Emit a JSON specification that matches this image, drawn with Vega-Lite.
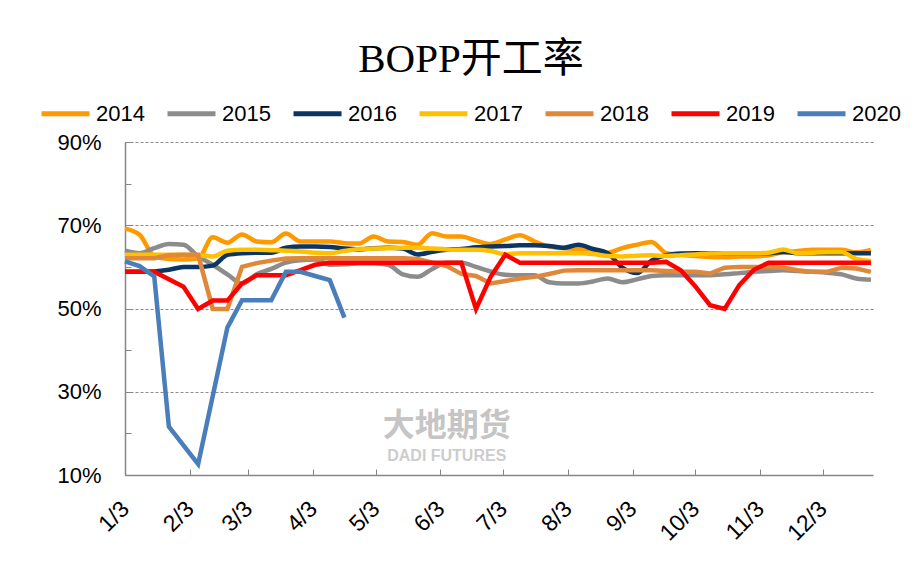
{
  "$schema": "https://vega.github.io/schema/vega-lite/v6.json",
  "width": 748,
  "height": 333,
  "autosize": "none",
  "padding": {"left": 125, "top": 142, "right": 45, "bottom": 92},
  "background": "white",
  "config": {"view": {"stroke": null}},
  "title": {"text": "BOPP开工率", "font": "Liberation Serif, Noto Sans CJK SC", "fontSize": 41, "fontWeight": "normal", "color": "black", "anchor": "middle", "dx": -28, "offset": 6},
  "data": {"values": [
{"d":"2019/01/03","s":"2014","v":69.2},{"d":"2019/01/10","s":"2014","v":67.7},{"d":"2019/01/17","s":"2014","v":62.6},{"d":"2019/01/24","s":"2014","v":61.9},{"d":"2019/01/31","s":"2014","v":61.8},{"d":"2019/02/07","s":"2014","v":62.0},{"d":"2019/02/14","s":"2014","v":67.1},{"d":"2019/02/21","s":"2014","v":65.8},{"d":"2019/02/28","s":"2014","v":67.8},{"d":"2019/03/07","s":"2014","v":66.1},{"d":"2019/03/14","s":"2014","v":65.9},{"d":"2019/03/21","s":"2014","v":68.0},{"d":"2019/03/28","s":"2014","v":66.1},{"d":"2019/04/04","s":"2014","v":66.1},{"d":"2019/04/11","s":"2014","v":66.1},{"d":"2019/04/18","s":"2014","v":65.7},{"d":"2019/04/25","s":"2014","v":65.6},{"d":"2019/05/02","s":"2014","v":67.3},{"d":"2019/05/09","s":"2014","v":66.1},{"d":"2019/05/16","s":"2014","v":66.0},{"d":"2019/05/23","s":"2014","v":65.3},{"d":"2019/05/30","s":"2014","v":68.1},{"d":"2019/06/06","s":"2014","v":67.3},{"d":"2019/06/13","s":"2014","v":67.3},{"d":"2019/06/20","s":"2014","v":66.3},{"d":"2019/06/27","s":"2014","v":65.5},{"d":"2019/07/04","s":"2014","v":66.6},{"d":"2019/07/11","s":"2014","v":67.6},{"d":"2019/07/18","s":"2014","v":66.1},{"d":"2019/07/25","s":"2014","v":64.9},{"d":"2019/08/01","s":"2014","v":64.5},{"d":"2019/08/08","s":"2014","v":64.3},{"d":"2019/08/15","s":"2014","v":64.1},{"d":"2019/08/22","s":"2014","v":63.4},{"d":"2019/08/29","s":"2014","v":64.5},{"d":"2019/09/05","s":"2014","v":65.3},{"d":"2019/09/12","s":"2014","v":66.0},{"d":"2019/09/19","s":"2014","v":63.3},{"d":"2019/09/26","s":"2014","v":62.9},{"d":"2019/10/03","s":"2014","v":62.6},{"d":"2019/10/10","s":"2014","v":62.4},{"d":"2019/10/17","s":"2014","v":62.3},{"d":"2019/10/24","s":"2014","v":62.5},{"d":"2019/10/31","s":"2014","v":62.5},{"d":"2019/11/07","s":"2014","v":62.8},{"d":"2019/11/14","s":"2014","v":63.5},{"d":"2019/11/21","s":"2014","v":63.8},{"d":"2019/11/28","s":"2014","v":64.1},{"d":"2019/12/05","s":"2014","v":64.1},{"d":"2019/12/12","s":"2014","v":64.1},{"d":"2019/12/19","s":"2014","v":63.5},{"d":"2019/12/26","s":"2014","v":64.1},
{"d":"2019/01/03","s":"2015","v":63.9},{"d":"2019/01/10","s":"2015","v":63.3},{"d":"2019/01/17","s":"2015","v":64.5},{"d":"2019/01/24","s":"2015","v":65.5},{"d":"2019/01/31","s":"2015","v":65.3},{"d":"2019/02/07","s":"2015","v":62.5},{"d":"2019/02/14","s":"2015","v":60.5},{"d":"2019/02/21","s":"2015","v":58.2},{"d":"2019/02/28","s":"2015","v":56.0},{"d":"2019/03/07","s":"2015","v":58.2},{"d":"2019/03/14","s":"2015","v":59.5},{"d":"2019/03/21","s":"2015","v":61.0},{"d":"2019/03/28","s":"2015","v":61.6},{"d":"2019/04/04","s":"2015","v":61.8},{"d":"2019/04/11","s":"2015","v":60.5},{"d":"2019/04/18","s":"2015","v":60.6},{"d":"2019/04/25","s":"2015","v":60.9},{"d":"2019/05/02","s":"2015","v":60.9},{"d":"2019/05/09","s":"2015","v":60.5},{"d":"2019/05/16","s":"2015","v":58.2},{"d":"2019/05/23","s":"2015","v":57.6},{"d":"2019/05/30","s":"2015","v":59.5},{"d":"2019/06/06","s":"2015","v":61.0},{"d":"2019/06/13","s":"2015","v":61.0},{"d":"2019/06/20","s":"2015","v":60.0},{"d":"2019/06/27","s":"2015","v":58.9},{"d":"2019/07/04","s":"2015","v":58.1},{"d":"2019/07/11","s":"2015","v":58.0},{"d":"2019/07/18","s":"2015","v":58.0},{"d":"2019/07/25","s":"2015","v":56.3},{"d":"2019/08/01","s":"2015","v":56.0},{"d":"2019/08/08","s":"2015","v":56.0},{"d":"2019/08/15","s":"2015","v":56.5},{"d":"2019/08/22","s":"2015","v":57.2},{"d":"2019/08/29","s":"2015","v":56.3},{"d":"2019/09/05","s":"2015","v":57.0},{"d":"2019/09/12","s":"2015","v":57.8},{"d":"2019/09/19","s":"2015","v":58.0},{"d":"2019/09/26","s":"2015","v":58.0},{"d":"2019/10/03","s":"2015","v":58.0},{"d":"2019/10/10","s":"2015","v":58.0},{"d":"2019/10/17","s":"2015","v":58.2},{"d":"2019/10/24","s":"2015","v":58.5},{"d":"2019/10/31","s":"2015","v":58.8},{"d":"2019/11/07","s":"2015","v":59.0},{"d":"2019/11/14","s":"2015","v":59.2},{"d":"2019/11/21","s":"2015","v":59.0},{"d":"2019/11/28","s":"2015","v":58.8},{"d":"2019/12/05","s":"2015","v":58.6},{"d":"2019/12/12","s":"2015","v":58.2},{"d":"2019/12/19","s":"2015","v":57.2},{"d":"2019/12/26","s":"2015","v":56.9},
{"d":"2019/01/03","s":"2016","v":58.8},{"d":"2019/01/10","s":"2016","v":58.8},{"d":"2019/01/17","s":"2016","v":58.9},{"d":"2019/01/24","s":"2016","v":59.3},{"d":"2019/01/31","s":"2016","v":60.0},{"d":"2019/02/07","s":"2016","v":60.0},{"d":"2019/02/14","s":"2016","v":60.3},{"d":"2019/02/21","s":"2016","v":62.9},{"d":"2019/02/28","s":"2016","v":63.3},{"d":"2019/03/07","s":"2016","v":63.4},{"d":"2019/03/14","s":"2016","v":63.4},{"d":"2019/03/21","s":"2016","v":64.6},{"d":"2019/03/28","s":"2016","v":64.9},{"d":"2019/04/04","s":"2016","v":64.9},{"d":"2019/04/11","s":"2016","v":64.8},{"d":"2019/04/18","s":"2016","v":64.4},{"d":"2019/04/25","s":"2016","v":64.2},{"d":"2019/05/02","s":"2016","v":64.5},{"d":"2019/05/09","s":"2016","v":64.6},{"d":"2019/05/16","s":"2016","v":64.4},{"d":"2019/05/23","s":"2016","v":63.0},{"d":"2019/05/30","s":"2016","v":63.6},{"d":"2019/06/06","s":"2016","v":64.1},{"d":"2019/06/13","s":"2016","v":64.3},{"d":"2019/06/20","s":"2016","v":64.7},{"d":"2019/06/27","s":"2016","v":64.9},{"d":"2019/07/04","s":"2016","v":65.0},{"d":"2019/07/11","s":"2016","v":65.2},{"d":"2019/07/18","s":"2016","v":65.2},{"d":"2019/07/25","s":"2016","v":65.0},{"d":"2019/08/01","s":"2016","v":64.6},{"d":"2019/08/08","s":"2016","v":65.3},{"d":"2019/08/15","s":"2016","v":64.3},{"d":"2019/08/22","s":"2016","v":63.3},{"d":"2019/08/29","s":"2016","v":59.8},{"d":"2019/09/05","s":"2016","v":58.5},{"d":"2019/09/12","s":"2016","v":61.5},{"d":"2019/09/19","s":"2016","v":62.8},{"d":"2019/09/26","s":"2016","v":63.2},{"d":"2019/10/03","s":"2016","v":63.3},{"d":"2019/10/10","s":"2016","v":63.3},{"d":"2019/10/17","s":"2016","v":63.3},{"d":"2019/10/24","s":"2016","v":63.3},{"d":"2019/10/31","s":"2016","v":63.3},{"d":"2019/11/07","s":"2016","v":63.3},{"d":"2019/11/14","s":"2016","v":63.6},{"d":"2019/11/21","s":"2016","v":63.3},{"d":"2019/11/28","s":"2016","v":63.3},{"d":"2019/12/05","s":"2016","v":63.3},{"d":"2019/12/12","s":"2016","v":63.3},{"d":"2019/12/19","s":"2016","v":63.3},{"d":"2019/12/26","s":"2016","v":63.3},
{"d":"2019/01/03","s":"2017","v":62.9},{"d":"2019/01/10","s":"2017","v":62.9},{"d":"2019/01/17","s":"2017","v":62.9},{"d":"2019/01/24","s":"2017","v":62.9},{"d":"2019/01/31","s":"2017","v":62.9},{"d":"2019/02/07","s":"2017","v":62.8},{"d":"2019/02/14","s":"2017","v":62.5},{"d":"2019/02/21","s":"2017","v":63.9},{"d":"2019/02/28","s":"2017","v":64.1},{"d":"2019/03/07","s":"2017","v":64.1},{"d":"2019/03/14","s":"2017","v":64.0},{"d":"2019/03/21","s":"2017","v":63.9},{"d":"2019/03/28","s":"2017","v":63.7},{"d":"2019/04/04","s":"2017","v":63.4},{"d":"2019/04/11","s":"2017","v":63.3},{"d":"2019/04/18","s":"2017","v":63.8},{"d":"2019/04/25","s":"2017","v":64.3},{"d":"2019/05/02","s":"2017","v":64.4},{"d":"2019/05/09","s":"2017","v":64.5},{"d":"2019/05/16","s":"2017","v":64.6},{"d":"2019/05/23","s":"2017","v":64.6},{"d":"2019/05/30","s":"2017","v":64.4},{"d":"2019/06/06","s":"2017","v":64.2},{"d":"2019/06/13","s":"2017","v":64.1},{"d":"2019/06/20","s":"2017","v":64.1},{"d":"2019/06/27","s":"2017","v":63.8},{"d":"2019/07/04","s":"2017","v":63.0},{"d":"2019/07/11","s":"2017","v":63.3},{"d":"2019/07/18","s":"2017","v":63.3},{"d":"2019/07/25","s":"2017","v":63.3},{"d":"2019/08/01","s":"2017","v":63.3},{"d":"2019/08/08","s":"2017","v":63.3},{"d":"2019/08/15","s":"2017","v":63.1},{"d":"2019/08/22","s":"2017","v":62.6},{"d":"2019/08/29","s":"2017","v":62.5},{"d":"2019/09/05","s":"2017","v":62.7},{"d":"2019/09/12","s":"2017","v":62.8},{"d":"2019/09/19","s":"2017","v":62.6},{"d":"2019/09/26","s":"2017","v":62.8},{"d":"2019/10/03","s":"2017","v":63.0},{"d":"2019/10/10","s":"2017","v":63.2},{"d":"2019/10/17","s":"2017","v":63.3},{"d":"2019/10/24","s":"2017","v":63.3},{"d":"2019/10/31","s":"2017","v":63.3},{"d":"2019/11/07","s":"2017","v":63.4},{"d":"2019/11/14","s":"2017","v":64.2},{"d":"2019/11/21","s":"2017","v":63.3},{"d":"2019/11/28","s":"2017","v":63.4},{"d":"2019/12/05","s":"2017","v":63.5},{"d":"2019/12/12","s":"2017","v":63.5},{"d":"2019/12/19","s":"2017","v":61.9},{"d":"2019/12/26","s":"2017","v":61.4},
{"d":"2019/01/03","s":"2018","v":62.1},{"d":"2019/01/10","s":"2018","v":62.1},{"d":"2019/01/17","s":"2018","v":62.1},{"d":"2019/01/24","s":"2018","v":62.8},{"d":"2019/01/31","s":"2018","v":62.9},{"d":"2019/02/07","s":"2018","v":62.9},{"d":"2019/02/14","s":"2018","v":49.9},{"d":"2019/02/21","s":"2018","v":49.9},{"d":"2019/02/28","s":"2018","v":60.0},{"d":"2019/03/07","s":"2018","v":60.9},{"d":"2019/03/14","s":"2018","v":61.5},{"d":"2019/03/21","s":"2018","v":62.0},{"d":"2019/03/28","s":"2018","v":62.1},{"d":"2019/04/04","s":"2018","v":62.1},{"d":"2019/04/11","s":"2018","v":62.1},{"d":"2019/04/18","s":"2018","v":62.1},{"d":"2019/04/25","s":"2018","v":62.1},{"d":"2019/05/02","s":"2018","v":62.1},{"d":"2019/05/09","s":"2018","v":62.1},{"d":"2019/05/16","s":"2018","v":62.1},{"d":"2019/05/23","s":"2018","v":61.9},{"d":"2019/05/30","s":"2018","v":61.0},{"d":"2019/06/06","s":"2018","v":60.2},{"d":"2019/06/13","s":"2018","v":58.3},{"d":"2019/06/20","s":"2018","v":57.8},{"d":"2019/06/27","s":"2018","v":56.0},{"d":"2019/07/04","s":"2018","v":56.6},{"d":"2019/07/11","s":"2018","v":57.2},{"d":"2019/07/18","s":"2018","v":57.6},{"d":"2019/07/25","s":"2018","v":58.3},{"d":"2019/08/01","s":"2018","v":59.1},{"d":"2019/08/08","s":"2018","v":59.2},{"d":"2019/08/15","s":"2018","v":59.2},{"d":"2019/08/22","s":"2018","v":59.2},{"d":"2019/08/29","s":"2018","v":59.2},{"d":"2019/09/05","s":"2018","v":59.2},{"d":"2019/09/12","s":"2018","v":59.2},{"d":"2019/09/19","s":"2018","v":59.0},{"d":"2019/09/26","s":"2018","v":58.8},{"d":"2019/10/03","s":"2018","v":58.8},{"d":"2019/10/10","s":"2018","v":58.4},{"d":"2019/10/17","s":"2018","v":59.8},{"d":"2019/10/24","s":"2018","v":60.0},{"d":"2019/10/31","s":"2018","v":60.0},{"d":"2019/11/07","s":"2018","v":60.0},{"d":"2019/11/14","s":"2018","v":59.8},{"d":"2019/11/21","s":"2018","v":59.2},{"d":"2019/11/28","s":"2018","v":58.8},{"d":"2019/12/05","s":"2018","v":58.8},{"d":"2019/12/12","s":"2018","v":59.8},{"d":"2019/12/19","s":"2018","v":59.6},{"d":"2019/12/26","s":"2018","v":58.8},
{"d":"2019/01/03","s":"2019","v":58.8},{"d":"2019/01/10","s":"2019","v":58.8},{"d":"2019/01/17","s":"2019","v":58.8},{"d":"2019/01/24","s":"2019","v":57.0},{"d":"2019/01/31","s":"2019","v":55.2},{"d":"2019/02/07","s":"2019","v":49.9},{"d":"2019/02/14","s":"2019","v":51.9},{"d":"2019/02/21","s":"2019","v":51.9},{"d":"2019/02/28","s":"2019","v":56.0},{"d":"2019/03/07","s":"2019","v":58.0},{"d":"2019/03/14","s":"2019","v":58.0},{"d":"2019/03/21","s":"2019","v":58.0},{"d":"2019/03/28","s":"2019","v":59.2},{"d":"2019/04/04","s":"2019","v":60.5},{"d":"2019/04/11","s":"2019","v":61.0},{"d":"2019/04/18","s":"2019","v":61.0},{"d":"2019/04/25","s":"2019","v":61.0},{"d":"2019/05/02","s":"2019","v":61.0},{"d":"2019/05/09","s":"2019","v":61.0},{"d":"2019/05/16","s":"2019","v":61.0},{"d":"2019/05/23","s":"2019","v":61.0},{"d":"2019/05/30","s":"2019","v":61.0},{"d":"2019/06/06","s":"2019","v":61.0},{"d":"2019/06/13","s":"2019","v":61.0},{"d":"2019/06/20","s":"2019","v":49.9},{"d":"2019/06/27","s":"2019","v":57.6},{"d":"2019/07/04","s":"2019","v":62.9},{"d":"2019/07/11","s":"2019","v":61.0},{"d":"2019/07/18","s":"2019","v":61.0},{"d":"2019/07/25","s":"2019","v":61.0},{"d":"2019/08/01","s":"2019","v":61.0},{"d":"2019/08/08","s":"2019","v":61.0},{"d":"2019/08/15","s":"2019","v":61.0},{"d":"2019/08/22","s":"2019","v":61.0},{"d":"2019/08/29","s":"2019","v":61.0},{"d":"2019/09/05","s":"2019","v":61.0},{"d":"2019/09/12","s":"2019","v":61.0},{"d":"2019/09/19","s":"2019","v":61.2},{"d":"2019/09/26","s":"2019","v":59.2},{"d":"2019/10/03","s":"2019","v":55.3},{"d":"2019/10/10","s":"2019","v":50.8},{"d":"2019/10/17","s":"2019","v":49.9},{"d":"2019/10/24","s":"2019","v":55.6},{"d":"2019/10/31","s":"2019","v":59.3},{"d":"2019/11/07","s":"2019","v":61.0},{"d":"2019/11/14","s":"2019","v":61.0},{"d":"2019/11/21","s":"2019","v":61.0},{"d":"2019/11/28","s":"2019","v":61.0},{"d":"2019/12/05","s":"2019","v":61.0},{"d":"2019/12/12","s":"2019","v":61.0},{"d":"2019/12/19","s":"2019","v":61.0},{"d":"2019/12/26","s":"2019","v":61.0},
{"d":"2019/01/03","s":"2020","v":61.3},{"d":"2019/01/10","s":"2020","v":60.2},{"d":"2019/01/17","s":"2020","v":57.7},{"d":"2019/01/24","s":"2020","v":21.6},{"d":"2019/01/31","s":"2020","v":17.1},{"d":"2019/02/07","s":"2020","v":12.6},{"d":"2019/02/14","s":"2020","v":29.0},{"d":"2019/02/21","s":"2020","v":45.4},{"d":"2019/02/28","s":"2020","v":52.0},{"d":"2019/03/07","s":"2020","v":52.0},{"d":"2019/03/14","s":"2020","v":52.0},{"d":"2019/03/21","s":"2020","v":58.8},{"d":"2019/03/28","s":"2020","v":58.8},{"d":"2019/04/04","s":"2020","v":57.8},{"d":"2019/04/11","s":"2020","v":56.8},{"d":"2019/04/18","s":"2020","v":47.8}
  ]},
  "encoding": {
    "x": {"field": "d", "type": "temporal",
      "scale": {"domain": [{"year": 2019, "month": 1, "date": 3}, {"year": 2019, "month": 12, "date": 27}]},
      "axis": {"title": null, "grid": false,
        "values": [{"year":2019,"month":1,"date":3},{"year":2019,"month":2,"date":3},{"year":2019,"month":3,"date":3},{"year":2019,"month":4,"date":3},{"year":2019,"month":5,"date":3},{"year":2019,"month":6,"date":3},{"year":2019,"month":7,"date":3},{"year":2019,"month":8,"date":3},{"year":2019,"month":9,"date":3},{"year":2019,"month":10,"date":3},{"year":2019,"month":11,"date":3},{"year":2019,"month":12,"date":3}],
        "format": "%-m/%-d", "labelAngle": -45, "labelAlign": "right", "labelBaseline": "middle",
        "labelFont": "Liberation Sans", "labelFontSize": 23, "labelColor": "black",
        "labelPadding": 36, "labelFlush": false, "labelOverlap": false, "labelBound": false,
        "tickSize": -6, "tickColor": "#868686", "domainColor": "#868686", "domainWidth": 1.5}},
    "y": {"field": "v", "type": "quantitative",
      "scale": {"domain": [10, 90], "nice": false},
      "axis": {"title": null, "values": [10, 20, 30, 40, 50, 60, 70, 80, 90],
        "labelExpr": "datum.value % 20 == 10 ? datum.value + '%' : ''",
        "labelFont": "Liberation Sans", "labelFontSize": 22, "labelColor": "black",
        "labelPadding": 30, "labelFlush": false,
        "grid": true, "gridColor": "#8c8c8c", "gridDash": [3, 2], "gridWidth": 1,
        "gridOpacity": {"condition": {"test": "datum.value % 20 == 10 && datum.value > 10", "value": 1}, "value": 0},
        "tickSize": -6, "tickColor": "#868686", "domainColor": "#868686", "domainWidth": 1.5}},
    "color": {"field": "s", "type": "nominal",
      "scale": {"domain": ["2014", "2015", "2016", "2017", "2018", "2019", "2020"],
        "range": ["#FF9900", "#8C8C8C", "#0B3563", "#FFC000", "#E0883A", "#FF0000", "#4A7EBB"]},
      "legend": {"orient": "none", "legendX": -86, "legendY": -55, "direction": "horizontal", "title": null,
        "symbolType": "stroke", "symbolSize": 2304, "symbolStrokeWidth": 5,
        "labelFont": "Liberation Sans", "labelFontSize": 22, "labelColor": "black",
        "labelOffset": 4, "columnPadding": 12}}
  },
  "layer": [
    {"transform": [{"filter": "datum.s <= '2017'"}],
     "mark": {"type": "line", "interpolate": "monotone", "strokeWidth": 4.5}},
    {"transform": [{"filter": "datum.s >= '2018'"}],
     "mark": {"type": "line", "strokeWidth": 4.5}},
    {"data": {"values": [{"t": "大地期货", "x": "2019/06/06", "y": 21.8}]},
     "mark": {"type": "text", "font": "Noto Sans CJK SC", "fontSize": 32, "fontWeight": "bold", "opacity": 0.4, "baseline": "middle", "align": "center"},
     "encoding": {"x": {"field": "x", "type": "temporal"}, "y": {"field": "y", "type": "quantitative"}, "text": {"field": "t"}, "color": {"value": "#707070"}}},
    {"data": {"values": [{"t": "DADI FUTURES", "x": "2019/06/06", "y": 14.6}]},
     "mark": {"type": "text", "font": "Liberation Sans", "fontSize": 16, "fontWeight": "bold", "opacity": 0.35, "baseline": "middle", "align": "center"},
     "encoding": {"x": {"field": "x", "type": "temporal"}, "y": {"field": "y", "type": "quantitative"}, "text": {"field": "t"}, "color": {"value": "#707070"}}}
  ]
}
